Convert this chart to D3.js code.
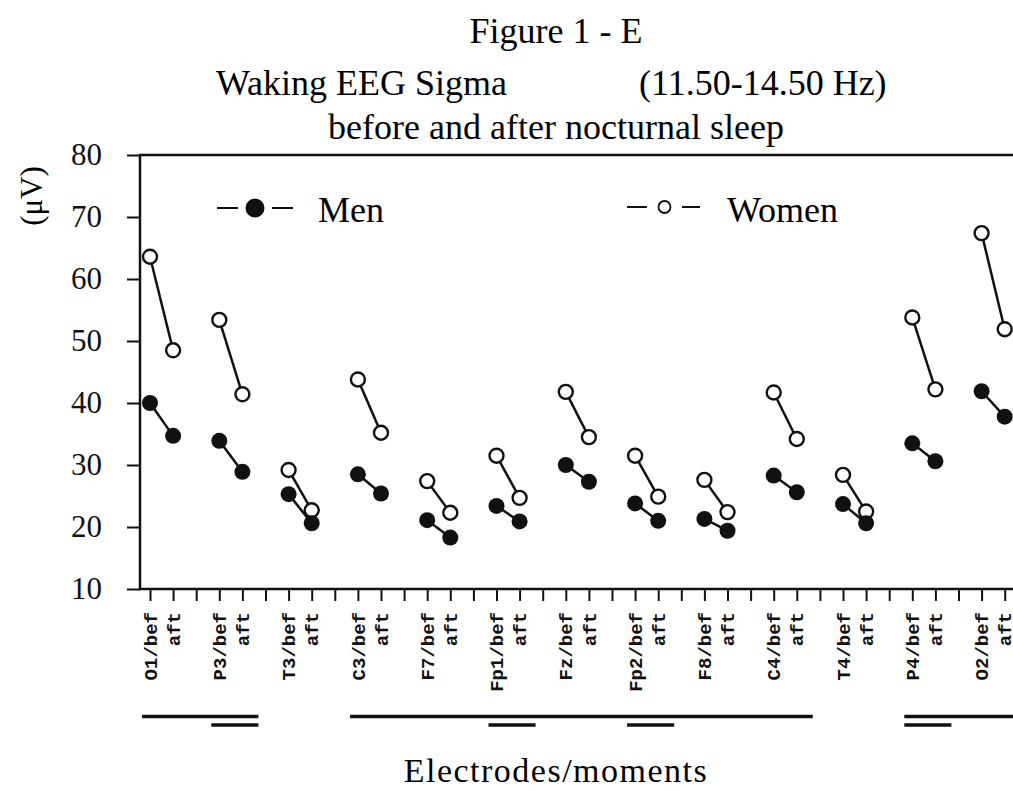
<!DOCTYPE html>
<html>
<head>
<meta charset="utf-8">
<script src="https://cdn.jsdelivr.net/npm/d3@7"></script>
<style>
  body { margin: 0; background: #fff; }
  svg { display: block; font-family: "Liberation Serif", "Times New Roman", serif; }
</style>
</head>
<body>
<svg id="chart" width="1013" height="791"></svg>
<script>
// electrodes in display order, values in microvolts
var electrodes = ["O1", "P3", "T3", "C3", "F7", "Fp1", "Fz", "Fp2", "F8", "C4", "T4", "P4", "O2"]
var menBefore = [40.0, 33.9, 25.3, 28.5, 21.1, 23.4, 30.0, 23.8, 21.3, 28.3, 23.7, 33.5, 41.9]
var menAfter = [34.7, 28.9, 20.6, 25.4, 18.3, 20.9, 27.3, 21.0, 19.4, 25.6, 20.6, 30.6, 37.8]
var womenBefore = [63.6, 53.4, 29.2, 43.8, 27.4, 31.5, 41.8, 31.5, 27.6, 41.7, 28.4, 53.8, 67.4]
var womenAfter = [48.5, 41.4, 22.7, 35.2, 22.3, 24.7, 34.5, 24.9, 22.4, 34.2, 22.5, 42.2, 51.9]
var moments = ["bef", "aft", "gap"]
var yTicks = [10, 20, 30, 40, 50, 60, 70, 80]
// significance bars under the axis (from electrode, to electrode)
var sigRow1 = [["O1", "P3"], ["C3", "C4"], ["P4", "O2"]]
var sigRow2 = [["P3", "P3"], ["Fp1", "Fp1"], ["Fp2", "Fp2"], ["P4", "P4"]]

var svg = d3.select("#chart")

var slots = []
electrodes.forEach(function(e) {
  moments.forEach(function(m) { slots.push(e + "/" + m) })
})

var x = d3.scalePoint()
  .domain(slots)
  .range([150, 150 + 23.1 * (slots.length - 1)])
var y = d3.scaleLinear()
  .domain([10, 80])
  .range([589, 155])

// titles
svg.append("text")
  .attr("x", 556).attr("y", 43)
  .attr("text-anchor", "middle")
  .attr("font-size", 36)
  .text("Figure 1 - E")
svg.append("text")
  .attr("x", 216).attr("y", 95)
  .attr("font-size", 36)
  .text("Waking EEG Sigma")
svg.append("text")
  .attr("x", 639).attr("y", 95)
  .attr("font-size", 36)
  .text("(11.50-14.50 Hz)")
svg.append("text")
  .attr("x", 556).attr("y", 139)
  .attr("text-anchor", "middle")
  .attr("font-size", 36)
  .text("before and after nocturnal sleep")

// frame, open on the right (runs off the page)
svg.append("path")
  .attr("d", "M1030,155H140V589H1030")
  .attr("fill", "none")
  .attr("stroke", "#111")
  .attr("stroke-width", 2.5)

var yAxis = svg.append("g")
  .attr("transform", "translate(140,0)")
  .call(d3.axisLeft(y).tickValues(yTicks).tickSize(13).tickSizeOuter(0).tickPadding(25))
yAxis.select(".domain").remove()
yAxis.selectAll("line").attr("stroke", "#111").attr("stroke-width", 2)
yAxis.selectAll("text")
  .attr("font-family", "Liberation Serif, serif")
  .attr("font-size", 31)
  .attr("fill", "#111")

var xAxis = svg.append("g")
  .attr("transform", "translate(0,589)")
  .call(d3.axisBottom(x).tickSize(12).tickSizeOuter(0).tickFormat(""))
xAxis.select(".domain").remove()
xAxis.selectAll("line").attr("stroke", "#111").attr("stroke-width", 2)

// rotated electrode/moment labels
var labels = svg.append("g")
  .attr("font-family", "Liberation Mono, monospace")
  .attr("font-size", 19)
  .attr("font-weight", "bold")
  .attr("fill", "#111")
electrodes.forEach(function(e) {
  labels.append("text")
    .attr("transform", "translate(" + x(e + "/bef") + ",612) rotate(-90)")
    .attr("text-anchor", "end")
    .attr("dy", "0.35em")
    .text(e + "/bef")
  labels.append("text")
    .attr("transform", "translate(" + x(e + "/aft") + ",612) rotate(-90)")
    .attr("text-anchor", "end")
    .attr("dy", "0.35em")
    .text("aft")
})

svg.append("text")
  .attr("transform", "translate(31,196) rotate(-90)")
  .attr("text-anchor", "middle")
  .attr("dy", "0.35em")
  .attr("font-size", 31)
  .text("(\u03bcV)")

// data
function drawGroup(before, after, filled) {
  var g = svg.append("g")
  electrodes.forEach(function(e, i) {
    g.append("line")
      .attr("x1", x(e + "/bef")).attr("y1", y(before[i]))
      .attr("x2", x(e + "/aft")).attr("y2", y(after[i]))
      .attr("stroke", "#111")
      .attr("stroke-width", 2.5)
  })
  electrodes.forEach(function(e, i) {
    [[e + "/bef", before[i]], [e + "/aft", after[i]]].forEach(function(p) {
      g.append("circle")
        .attr("cx", x(p[0]))
        .attr("cy", y(p[1]))
        .attr("r", filled ? 8 : 7)
        .attr("fill", filled ? "#111" : "#fff")
        .attr("stroke", "#111")
        .attr("stroke-width", filled ? 0 : 2.4)
    })
  })
}
drawGroup(womenBefore, womenAfter, false)
drawGroup(menBefore, menAfter, true)

// legend
var legend = svg.append("g").attr("stroke", "#111").attr("stroke-width", 2)
legend.append("line").attr("x1", 217).attr("x2", 238).attr("y1", 208).attr("y2", 208)
legend.append("line").attr("x1", 272).attr("x2", 293).attr("y1", 208).attr("y2", 208)
legend.append("circle").attr("cx", 255).attr("cy", 208).attr("r", 8.5).attr("fill", "#111")
legend.append("line").attr("x1", 627).attr("x2", 647).attr("y1", 207).attr("y2", 207)
legend.append("line").attr("x1", 682).attr("x2", 700).attr("y1", 207).attr("y2", 207)
legend.append("circle").attr("cx", 664.5).attr("cy", 207).attr("r", 6).attr("fill", "#fff").attr("stroke-width", 1.8)
svg.append("text").attr("x", 318).attr("y", 222).attr("font-size", 36).text("Men")
svg.append("text").attr("x", 727).attr("y", 222).attr("font-size", 36).text("Women")

// significance bars
function drawBars(rows, yPos) {
  svg.append("g").selectAll("line")
    .data(rows)
    .join("line")
    .attr("x1", function(d) { return x(d[0] + "/bef") - 8 })
    .attr("x2", function(d) { return x(d[1] + "/aft") + 16 })
    .attr("y1", yPos).attr("y2", yPos)
    .attr("stroke", "#111")
    .attr("stroke-width", 3.5)
}
drawBars(sigRow1, 716.5)
drawBars(sigRow2, 725)

svg.append("text")
  .attr("x", 556).attr("y", 782)
  .attr("text-anchor", "middle")
  .attr("font-size", 34)
  .attr("letter-spacing", 1.5)
  .text("Electrodes/moments")
</script>
</body>
</html>
